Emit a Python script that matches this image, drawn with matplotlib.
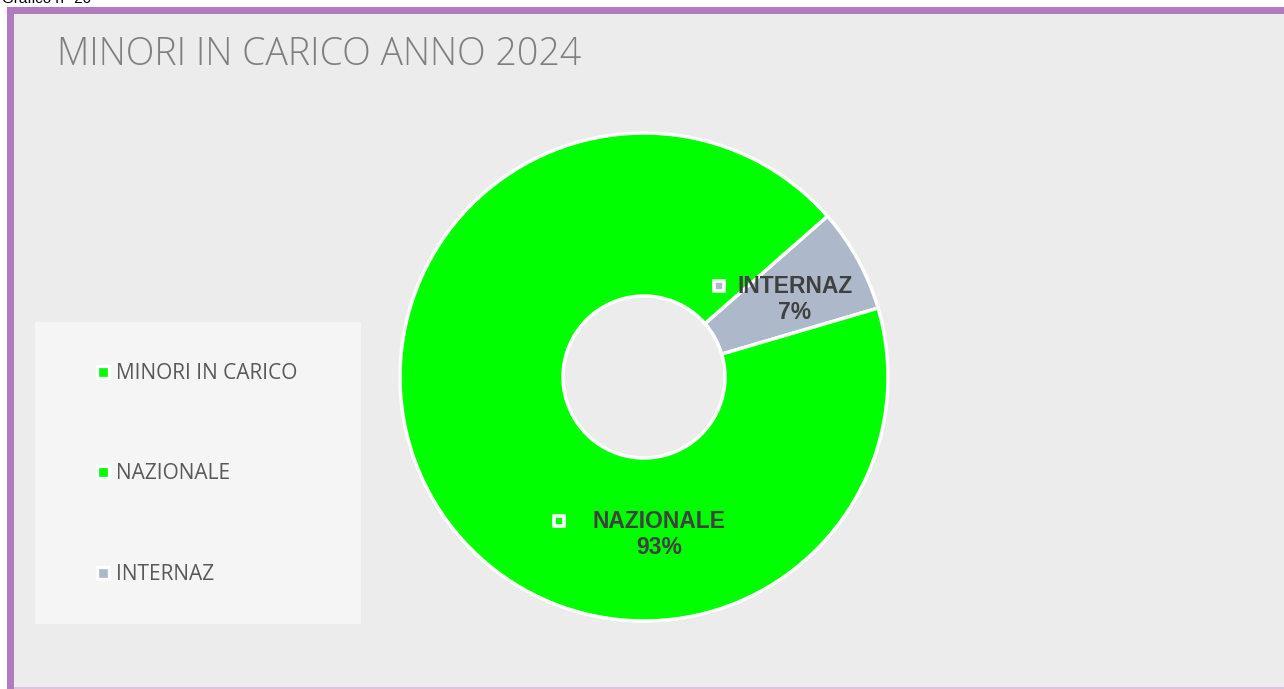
import matplotlib
matplotlib.use("Agg")
import matplotlib.pyplot as plt
from matplotlib.patches import Rectangle
import numpy as np

# ---- data ----
title = "MINORI IN CARICO ANNO 2024"
caption = "Grafico n° 20"
slice_labels = ["INTERNAZ", "NAZIONALE"]
slice_values = [6.9, 93.1]
slice_colors = ["#ADB9CA", "#00FF00"]
legend_labels = ["MINORI IN CARICO", "NAZIONALE", "INTERNAZ"]
legend_colors = ["#00FF00", "#00FF00", "#ADB9CA"]

W, H = 1284, 689
fig = plt.figure(figsize=(W / 100, H / 100), dpi=100)
fig.patch.set_facecolor("white")

# overlay axes in pixel coordinates
ov = fig.add_axes([0, 0, 1, 1])
ov.set_xlim(0, W)
ov.set_ylim(H, 0)
ov.axis("off")

# frame
ov.add_patch(Rectangle((14, 14), W - 14, H - 16, facecolor="#ECECEC", edgecolor="none", zorder=0))
ov.add_patch(Rectangle((7, 7), W - 7, 7, facecolor="#B07CBB", edgecolor="none", zorder=1))
ov.add_patch(Rectangle((7, 7), 7, H - 7, facecolor="#B07CBB", edgecolor="none", zorder=1))
ov.add_patch(Rectangle((14, H - 2), W - 14, 2, facecolor="#DDC5E2", edgecolor="none", zorder=1))

# caption (cropped at top in the reference)
ov.text(2, 6, caption, fontsize=11, color="#000000", ha="left", va="bottom",
        family="Liberation Sans", zorder=2)

# title
ov.text(57, 55, title, fontsize=27, color="#7F7F7F", ha="left", va="center",
        family="Open Sans", fontweight="light", zorder=2)

# legend box
ov.add_patch(Rectangle((35, 322), 326, 302, facecolor="#F5F5F5", edgecolor="none", zorder=1))
leg_y = [372, 472, 573]
for lab, col, y in zip(legend_labels, legend_colors, leg_y):
    ov.plot([103], [y], marker="s", markersize=8.2, markerfacecolor=col,
            markeredgecolor="white", markeredgewidth=2.4, zorder=3)
    ov.text(116, y + 1.5, lab, fontsize=15, color="#595959", ha="left", va="center",
            family="Open Sans", zorder=3)

# pie
cx, cy, R = 644, 377, 244
ax = fig.add_axes([(cx - R) / W, (H - cy - R) / H, 2 * R / W, 2 * R / H])
wedges, _ = ax.pie(slice_values, colors=slice_colors, startangle=16.4, counterclock=True,
                   radius=1.0, wedgeprops=dict(width=1 - 81 / 244, edgecolor="white", linewidth=2.5))
ax.set_xlim(-1.0, 1.0)
ax.set_ylim(-1.0, 1.0)
ax.axis("off")
ax.set_aspect("equal")

total = sum(slice_values)
# label placement (pie axis units): text centre x, centre y, marker x-offset
label_pos = {"INTERNAZ": (0.619, 0.318, -0.311), "NAZIONALE": (0.061, -0.645, -0.41)}
for lab, val, col in zip(slice_labels, slice_values, slice_colors):
    tx, ty, mdx = label_pos[lab]
    pct = f"{val / total * 100:.0f}%"
    ax.text(tx, ty + 0.053, lab, fontsize=16.5, fontweight="bold", color="#404040",
            ha="center", va="center", family="Liberation Sans")
    ax.text(tx, ty - 0.053, pct, fontsize=16.5, fontweight="bold", color="#404040",
            ha="center", va="center", family="Liberation Sans")
    ax.plot([tx + mdx], [ty + 0.053], marker="s", markersize=6.8, markerfacecolor=col,
            markeredgecolor="white", markeredgewidth=2.6)

fig.savefig("out.png", dpi=100, facecolor=fig.get_facecolor())
